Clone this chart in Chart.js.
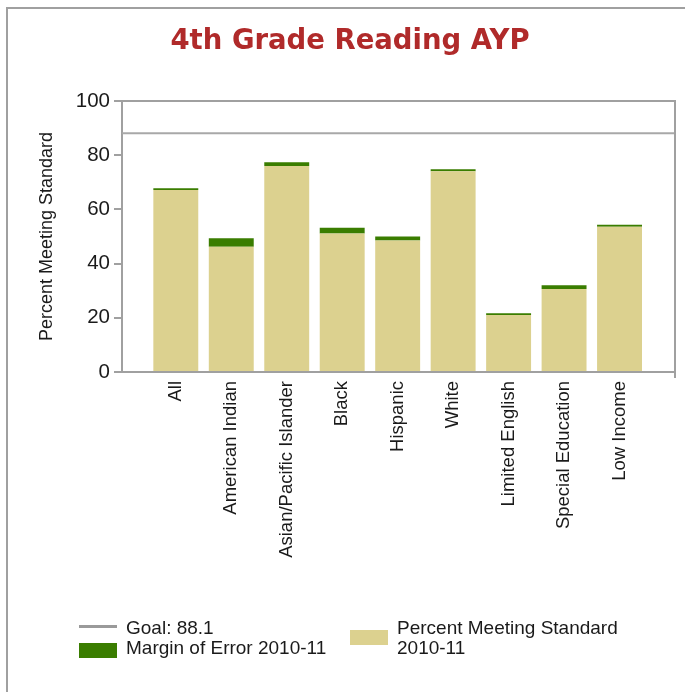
<!DOCTYPE html>
<html>
<head>
<meta charset="utf-8">
<title>4th Grade Reading AYP</title>
<script src="https://cdn.jsdelivr.net/npm/chart.js@4.4.0/dist/chart.umd.min.js"></script>
<style>
    html, body { margin: 0; padding: 0; background: #fff; overflow: hidden; }
    #wrap { position: relative; width: 685px; height: 692px; }
    #frame { position: absolute; left: 6px; top: 7px; width: 800px; height: 800px;
             border-left: 2px solid #a0a0a0; border-top: 2px solid #a0a0a0; }
    #chart { position: absolute; left: 0; top: 0; }
    #title { position: absolute; left: 0; top: 23px; width: 700px; text-align: center;
             font-family: "DejaVu Sans", sans-serif; font-weight: bold; font-size: 27.5px;
             line-height: 32px; color: #b02a2a; }
    .lg { position: absolute; font-family: "Liberation Sans", Arial, sans-serif; font-size: 19px;
          line-height: 20px; color: #1a1a1a; white-space: nowrap; }
    .sw { position: absolute; }
</style>
</head>
<body>
<div id="wrap">
    <div id="frame"></div>
    <canvas id="chart" width="685" height="692"></canvas>
    <div id="title">4th Grade Reading AYP</div>
    <!-- légende -->
    <div class="sw" style="left:79px; top:625px; width:38px; height:3px; background:#9a9a9a;"></div>
    <div class="lg" style="left:126px; top:618px;">Goal: 88.1</div>
    <div class="sw" style="left:79px; top:643px; width:38px; height:15px; background:#3a7d00;"></div>
    <div class="lg" style="left:126px; top:638px;">Margin of Error 2010-11</div>
    <div class="sw" style="left:350px; top:630px; width:38px; height:15px; background:#dcd18f;"></div>
    <div class="lg" style="left:397px; top:618px;">Percent Meeting Standard<br>2010-11</div>
</div>
<script>
const categories = ['All', 'American Indian', 'Asian/Pacific Islander', 'Black', 'Hispanic',
                    'White', 'Limited English', 'Special Education', 'Low Income'];
const percentMeeting = [67.2, 46.2, 76.0, 51.1, 48.5, 74.1, 21.0, 30.6, 53.6];
const marginOfError = [0.6, 3.2, 1.4, 2.1, 1.5, 0.7, 0.7, 1.4, 0.7];
const goal = 88.1;
const yTicks = [0, 20, 40, 60, 80, 100];

const X_MIN = -0.97;
const X_MAX = 9.0;
const AXIS_GREY = '#a0a0a0';
const TEXT_FONT = "'Liberation Sans', Arial, sans-serif";

// cadre du graphique (haut + droite)
const frameBox = {
    id: 'frameBox',
    afterDatasetsDraw(chart) {
        const { ctx, chartArea } = chart;
        ctx.save();
        ctx.strokeStyle = AXIS_GREY;
        ctx.lineWidth = 2;
        ctx.beginPath();
        ctx.moveTo(chartArea.left, chartArea.top);
        ctx.lineTo(chartArea.right, chartArea.top);
        ctx.lineTo(chartArea.right, chartArea.bottom + 6);
        ctx.stroke();
        ctx.restore();
    }
};

function initChart() {
    const ctx = document.getElementById('chart').getContext('2d');
    new Chart(ctx, {
        type: 'bar',
        data: {
            datasets: [{
                label: 'Percent Meeting Standard 2010-11',
                data: percentMeeting.map((v, i) => ({ x: i, y: v })),
                backgroundColor: '#dcd18f',
                stack: 'ayp',
                categoryPercentage: 0.81,
                barPercentage: 1.0,
                order: 2
            }, {
                label: 'Margin of Error 2010-11',
                data: marginOfError.map((v, i) => ({ x: i, y: v })),
                backgroundColor: '#3a7d00',
                stack: 'ayp',
                categoryPercentage: 0.81,
                barPercentage: 1.0,
                order: 2
            }, {
                type: 'line',
                label: 'Goal: 88.1',
                data: [{ x: X_MIN, y: goal }, { x: X_MAX, y: goal }],
                borderColor: '#a8a8a8',
                borderWidth: 2,
                pointRadius: 0,
                stack: 'goal',
                order: 1
            }]
        },
        options: {
            responsive: false,
            animation: false,
            layout: { padding: { top: 101, left: 0, right: 10, bottom: 0 } },
            plugins: {
                legend: { display: false },
                tooltip: { enabled: false },
                title: { display: false }
            },
            scales: {
                x: {
                    type: 'linear',
                    stacked: true,
                    offset: false,
                    min: X_MIN,
                    max: X_MAX,
                    afterBuildTicks(scale) {
                        scale.ticks = categories.map((c, i) => ({ value: i }));
                    },
                    afterFit(scale) { scale.height = 320; },
                    grid: { display: false, drawTicks: false },
                    border: { display: true, color: AXIS_GREY, width: 2 },
                    ticks: {
                        autoSkip: false,
                        minRotation: 90,
                        maxRotation: 90,
                        padding: 9,
                        color: '#1a1a1a',
                        font: { family: TEXT_FONT, size: 18.5 },
                        callback: (v) => categories[Math.round(v)]
                    }
                },
                y: {
                    stacked: true,
                    min: 0,
                    max: 100,
                    afterBuildTicks(scale) {
                        scale.ticks = yTicks.map(v => ({ value: v }));
                    },
                    afterFit(scale) { scale.width = 122; },
                    grid: { drawOnChartArea: false, drawTicks: true, tickLength: 8, color: AXIS_GREY, lineWidth: 2 },
                    border: { display: true, color: AXIS_GREY, width: 2 },
                    ticks: {
                        padding: 4,
                        color: '#1a1a1a',
                        font: { family: TEXT_FONT, size: 20.5 }
                    },
                    title: {
                        display: true,
                        text: 'Percent Meeting Standard',
                        color: '#1a1a1a',
                        font: { family: TEXT_FONT, size: 18 },
                        padding: { top: 36, bottom: 0 }
                    }
                }
            }
        },
        plugins: [frameBox]
    });
}

window.addEventListener('load', initChart);
</script>
</body>
</html>
